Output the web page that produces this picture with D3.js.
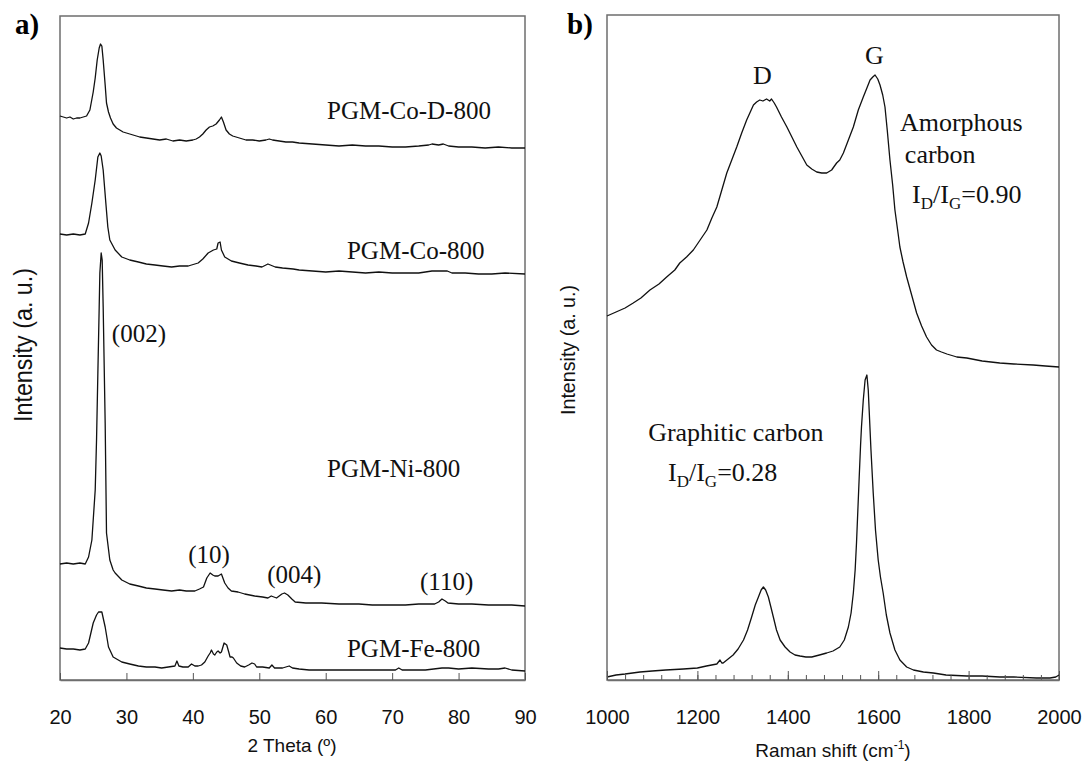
<!DOCTYPE html>
<html>
<head>
<meta charset="utf-8">
<script src="https://d3js.org/d3.v7.min.js"></script>
<style>
  body { margin: 0; background: white; }
  svg { display: block; }
</style>
</head>
<body>
<div id="chart"></div>
<script>
// ---------- data (intensity in arbitrary units, curves already stacked) ----------

// XRD, panel a: [2 theta, intensity]
let xrdCoD = [
  [20,564],[20.5,563],[21,562],[21.5,563],[22,561],[22.5,562],[23,562],[23.5,563],[24,564],[24.5,570],
  [25,588],[25.3,602],[25.6,620],[25.9,632],[26.1,636],[26.3,634],[26.5,620],[26.8,595],[27,577],[27.3,568],
  [27.6,562],[28,556],[28.5,552],[29,550],[29.5,548],[30,547],[31,545],[32,543],[33,542],[34,541],
  [35,540],[36,541],[37,539],[38,540],[39,539],[40,540],[40.5,541],[41,543],[41.5,546],[42,550],
  [42.5,553],[43,554],[43.5,556],[44,560],[44.3,563],[44.6,558],[45,550],[45.5,546],[46,544],[47,542],
  [48,540],[49,540],[50,539],[51,540],[51.5,541],[52,540],[53,539],[54,538],[55,538],[56,537],
  [58,536],[60,535],[62,534],[64,535],[66,534],[68,534],[70,533],[72,533],[74,534],[75.5,535],
  [76,536],[77,535],[77.7,536],[78.5,534],[80,533],[82,533],[84,532],[86,533],[88,532],[90,532]
];
let xrdCo = [
  [20,446],[21,445],[22,446],[23,445],[23.8,446],[24.3,457],[24.8,477],[25.3,500],[25.7,523],[26,527],
  [26.2,524],[26.5,510],[26.9,477],[27.2,453],[27.5,440],[28.3,430],[29.3,423],[30.5,420],[31.8,418],[33,416],
  [34.3,415],[35.5,414],[36.8,413],[38,414],[39.3,414],[40.3,416],[40.8,417],[41.5,421],[42.3,427],[43.1,430],
  [43.6,431],[43.8,437],[44.1,438],[44.3,430],[44.8,423],[45.8,419],[47,417],[48.3,415],[49.5,414],[50.4,413],
  [51.3,416],[52.4,413],[53.5,412],[55.1,411],[56,410],[58,409],[60,408],[62,409],[64,408],[66,407],
  [68,408],[70,407],[72,407],[74,407],[76,409],[77,409],[78.3,409],[79,407],[81,407],[83,406],
  [85,406],[87,407],[90,406]
];
let xrdNi = [
  [20,116],[21,117],[22,116],[23,117],[23.8,116],[24.3,123],[24.8,140],[25.3,190],[25.5,240],[25.7,307],
  [25.9,373],[26,407],[26.2,427],[26.35,420],[26.5,373],[26.8,257],[27,147],[27.5,120],[28,110],[28.3,107],
  [29.3,100],[30.5,96],[31.8,94],[33,92],[34.3,91],[35.5,90],[36.8,89],[38,90],[39,89],[40.3,89],
  [41,91],[41.6,93],[42.1,102],[42.6,107],[43,105],[43.3,104],[43.8,104],[44.3,106],[44.8,97],[45.3,92],
  [45.8,89],[46.8,88],[47.8,86],[49.3,84],[50.5,83],[51.3,82],[51.8,84],[52.6,82],[53.4,86],[53.8,87],
  [54.3,85],[54.9,81],[55.4,78],[57,77],[59.4,77],[62,76],[65,76],[67,75],[69.4,75],[72,75],
  [74,76],[76.4,76],[77,78],[77.5,81],[78,79],[78.4,77],[80,76],[82,76],[84.5,75],[86,75],
  [88,75],[90,74]
];
let xrdFe = [
  [20,32],[21,31],[22,31],[23,30],[23.8,31],[24.3,37],[25,57],[25.5,65],[25.8,68],[26.3,68],
  [26.8,53],[27.3,33],[28,23],[29.3,18],[30.5,16],[31.8,14],[33,13],[34.3,13],[35.3,12],[36.3,13],
  [37.3,14],[37.6,19],[37.9,14],[38.5,13],[39.3,13],[39.8,16],[40.3,14],[40.8,14],[41.3,15],[41.8,18],
  [42.3,24],[42.6,27],[42.8,30],[43.1,26],[43.3,25],[43.6,28],[43.8,29],[44.1,27],[44.3,28],[44.7,37],
  [45.1,35],[45.4,28],[45.6,23],[45.9,23],[46.1,22],[46.6,17],[47.2,14],[47.8,13],[48.4,15],[48.9,17],
  [49.3,16],[49.6,13],[50.5,13],[51.5,12],[51.9,15],[52.3,12],[53.5,12],[54.5,14],[55,12],[56,11],
  [57.5,10],[59.4,10],[62,10],[65,10],[67,10],[69.4,10],[70.5,10],[71,12],[71.5,10],[73,10],
  [75,10],[77.5,12],[78.5,12],[80,11],[82,12],[84.5,11],[86,11],[87,12],[88,10],[90,9]
];

// Raman, panel b: [Raman shift, intensity]
let ramanAmorphous = [
  [1000,364],[1020,368],[1040,372],[1058,377],[1075,382],[1095,390],[1115,396],[1132,403],[1150,410],[1161,417],
  [1176,423],[1191,430],[1206,440],[1221,450],[1232,462],[1243,473],[1254,490],[1265,507],[1276,520],[1287,533],
  [1298,547],[1309,560],[1317,568],[1324,575],[1331,578],[1338,580],[1345,579],[1353,581],[1360,579],[1364,581],
  [1370,577],[1375,573],[1386,563],[1398,553],[1409,543],[1420,533],[1431,524],[1442,515],[1453,511],[1464,508],
  [1475,507],[1486,507],[1497,510],[1508,517],[1515,520],[1523,527],[1534,540],[1545,553],[1556,570],[1567,583],
  [1575,592],[1582,600],[1588,603],[1593,605],[1599,601],[1604,595],[1610,585],[1615,573],[1620,550],[1626,520],
  [1632,495],[1637,470],[1643,450],[1648,433],[1655,418],[1663,403],[1674,385],[1685,367],[1696,354],[1707,343],
  [1718,335],[1729,330],[1740,328],[1752,326],[1774,323],[1796,322],[1830,319],[1869,317],[1900,316],[1943,315],
  [1970,314],[2000,313]
];
let ramanGraphitic = [
  [1000,3],[1020,5],[1040,6],[1073,8],[1100,9],[1130,10],[1169,11],[1200,12],[1220,14],[1243,16],
  [1250,20],[1254,17],[1257,17],[1268,21],[1279,25],[1290,31],[1302,40],[1311,50],[1320,63],[1328,75],
  [1335,83],[1341,90],[1346,93],[1351,90],[1357,83],[1362,74],[1368,63],[1375,50],[1383,40],[1394,33],
  [1405,28],[1416,25],[1427,24],[1440,23],[1453,23],[1470,25],[1486,27],[1500,29],[1515,33],[1525,40],
  [1534,53],[1540,67],[1545,87],[1549,110],[1552,137],[1555,170],[1558,203],[1561,235],[1563,253],[1567,280],
  [1571,300],[1575,305],[1578,290],[1580,270],[1584,230],[1589,187],[1594,150],[1600,120],[1605,103],[1611,87],
  [1618,65],[1626,47],[1637,30],[1648,20],[1663,13],[1678,10],[1700,8],[1722,7],[1750,5],[1796,4],
  [1830,4],[1869,3],[1900,3],[1950,2],[1980,2],[1993,3],[2000,5]
];

// tick values
let xrdTicks = [20, 30, 40, 50, 60, 70, 80, 90];
let ramanTicks = [1000, 1200, 1400, 1600, 1800, 2000];
let ramanMinorTicks = d3.range(1000, 2001, 40);

// text labels placed in data coordinates
let xrdNotes = [
  {text: "PGM-Co-D-800", x: 60.2, y: 561},
  {text: "PGM-Co-800", x: 63.2, y: 421},
  {text: "(002)", x: 27.8, y: 338},
  {text: "PGM-Ni-800", x: 60.2, y: 203},
  {text: "(10)", x: 39.3, y: 117},
  {text: "(004)", x: 51.2, y: 97},
  {text: "(110)", x: 74.2, y: 90},
  {text: "PGM-Fe-800", x: 63.2, y: 23}
];
let ramanNotes = [
  {text: "D", x: 1323, y: 596},
  {text: "G", x: 1571, y: 616},
  {text: "Amorphous", x: 1648, y: 549},
  {text: "carbon", x: 1659, y: 517},
  {text: "Graphitic carbon", x: 1091, y: 239}
];
let ratioNotes = [
  {value: "0.90", x: 1675, y: 477},
  {value: "0.28", x: 1135, y: 199}
];

// ---------- layout ----------
let width = 1086, height = 772;
let serif = "'Liberation Serif', 'Times New Roman', serif";
let sans = "'Liberation Sans', Arial, sans-serif";

let svg = d3.select("#chart")
  .append("svg")
  .attr("width", width)
  .attr("height", height)
  .style("background-color", "white");

//scales for both panels
let xa = d3.scaleLinear().domain([20, 90]).range([60, 525]),
    ya = d3.scaleLinear().domain([0, 664]).range([680, 16]);
let xb = d3.scaleLinear().domain([1000, 2000]).range([607, 1059]),
    yb = d3.scaleLinear().domain([0, 665]).range([680, 15]);

function drawPanel(x, y, curves) {
  let g = svg.append("g");

  //frame
  g.append("rect")
    .attr("x", x.range()[0])
    .attr("y", y.range()[1])
    .attr("width", x.range()[1] - x.range()[0])
    .attr("height", y.range()[0] - y.range()[1])
    .attr("fill", "none")
    .attr("stroke", "#6e6e6e")
    .attr("stroke-width", 1.5);

  let line = d3.line()
    .x(function(d) { return x(d[0]); })
    .y(function(d) { return y(d[1]); });

  g.selectAll(".curve")
    .data(curves)
    .enter().append("path")
    .attr("class", "curve")
    .attr("d", line)
    .attr("fill", "none")
    .attr("stroke", "#111")
    .attr("stroke-width", 1.3)
    .attr("stroke-linejoin", "round");

  return g;
}

// ---------- panel a: XRD ----------
let ga = drawPanel(xa, ya, [xrdCoD, xrdCo, xrdNi, xrdFe]);

let axisA = ga.append("g")
  .attr("transform", "translate(0,680)")
  .call(d3.axisBottom(xa).tickValues(xrdTicks).tickSizeInner(-7).tickSizeOuter(0).tickPadding(30));
axisA.select(".domain").attr("stroke", "#6e6e6e").attr("stroke-width", 1.5);
axisA.selectAll(".tick line").attr("stroke", "#555");
axisA.selectAll("text").style("font-family", sans).style("font-size", "20px").attr("fill", "#111");

ga.selectAll(".note")
  .data(xrdNotes)
  .enter().append("text")
  .attr("class", "note")
  .attr("x", function(d) { return xa(d.x); })
  .attr("y", function(d) { return ya(d.y); })
  .style("font-family", serif)
  .style("font-size", "25px")
  .attr("fill", "#111")
  .text(function(d) { return d.text; });

ga.append("text")
  .attr("x", 292)
  .attr("y", 752)
  .attr("text-anchor", "middle")
  .style("font-family", sans)
  .style("font-size", "19px")
  .attr("fill", "#111")
  .text("2 Theta (º)");

ga.append("text")
  .attr("transform", "translate(32,345) rotate(-90)")
  .attr("text-anchor", "middle")
  .attr("textLength", 154)
  .attr("lengthAdjust", "spacingAndGlyphs")
  .style("font-family", sans)
  .style("font-size", "25px")
  .attr("fill", "#111")
  .text("Intensity (a. u.)");

ga.append("text")
  .attr("x", 15)
  .attr("y", 34)
  .style("font-family", serif)
  .style("font-size", "29px")
  .style("font-weight", "bold")
  .text("a)");

// ---------- panel b: Raman ----------
let gb = drawPanel(xb, yb, [ramanAmorphous, ramanGraphitic]);

//minor ticks every 40 cm-1
gb.append("g")
  .attr("transform", "translate(0,680)")
  .call(d3.axisBottom(xb).tickValues(ramanMinorTicks).tickSizeInner(-5).tickSizeOuter(0).tickFormat(""))
  .call(function(s) { s.select(".domain").remove(); s.selectAll(".tick line").attr("stroke", "#555"); });

let axisB = gb.append("g")
  .attr("transform", "translate(0,680)")
  .call(d3.axisBottom(xb).tickValues(ramanTicks).tickFormat(d3.format("d"))
    .tickSizeInner(-9).tickSizeOuter(0).tickPadding(30));
axisB.select(".domain").attr("stroke", "#6e6e6e").attr("stroke-width", 1.5);
axisB.selectAll(".tick line").attr("stroke", "#555");
axisB.selectAll("text").style("font-family", sans).style("font-size", "20px").attr("fill", "#111");

gb.selectAll(".note")
  .data(ramanNotes)
  .enter().append("text")
  .attr("class", "note")
  .attr("x", function(d) { return xb(d.x); })
  .attr("y", function(d) { return yb(d.y); })
  .style("font-family", serif)
  .style("font-size", "26px")
  .attr("fill", "#111")
  .text(function(d) { return d.text; });

//I_D/I_G ratios with subscripts
let ratio = gb.selectAll(".ratio")
  .data(ratioNotes)
  .enter().append("text")
  .attr("class", "ratio")
  .attr("x", function(d) { return xb(d.x); })
  .attr("y", function(d) { return yb(d.y); })
  .style("font-family", serif)
  .style("font-size", "26px")
  .attr("fill", "#111");
ratio.append("tspan").text("I");
ratio.append("tspan").attr("dy", 6).style("font-size", "17px").text("D");
ratio.append("tspan").attr("dy", -6).text("/I");
ratio.append("tspan").attr("dy", 6).style("font-size", "17px").text("G");
ratio.append("tspan").attr("dy", -6).text(function(d) { return "=" + d.value; });

let xlabB = gb.append("text")
  .attr("x", 833)
  .attr("y", 757)
  .attr("text-anchor", "middle")
  .style("font-family", sans)
  .style("font-size", "19px")
  .attr("fill", "#111");
xlabB.append("tspan").text("Raman shift (cm");
xlabB.append("tspan").attr("dy", -8).style("font-size", "12px").text("-1");
xlabB.append("tspan").attr("dy", 8).text(")");

gb.append("text")
  .attr("transform", "translate(575,350) rotate(-90)")
  .attr("text-anchor", "middle")
  .attr("textLength", 130)
  .attr("lengthAdjust", "spacingAndGlyphs")
  .style("font-family", sans)
  .style("font-size", "21px")
  .attr("fill", "#111")
  .text("Intensity (a. u.)");

gb.append("text")
  .attr("x", 567)
  .attr("y", 34)
  .style("font-family", serif)
  .style("font-size", "29px")
  .style("font-weight", "bold")
  .text("b)");
</script>
</body>
</html>
